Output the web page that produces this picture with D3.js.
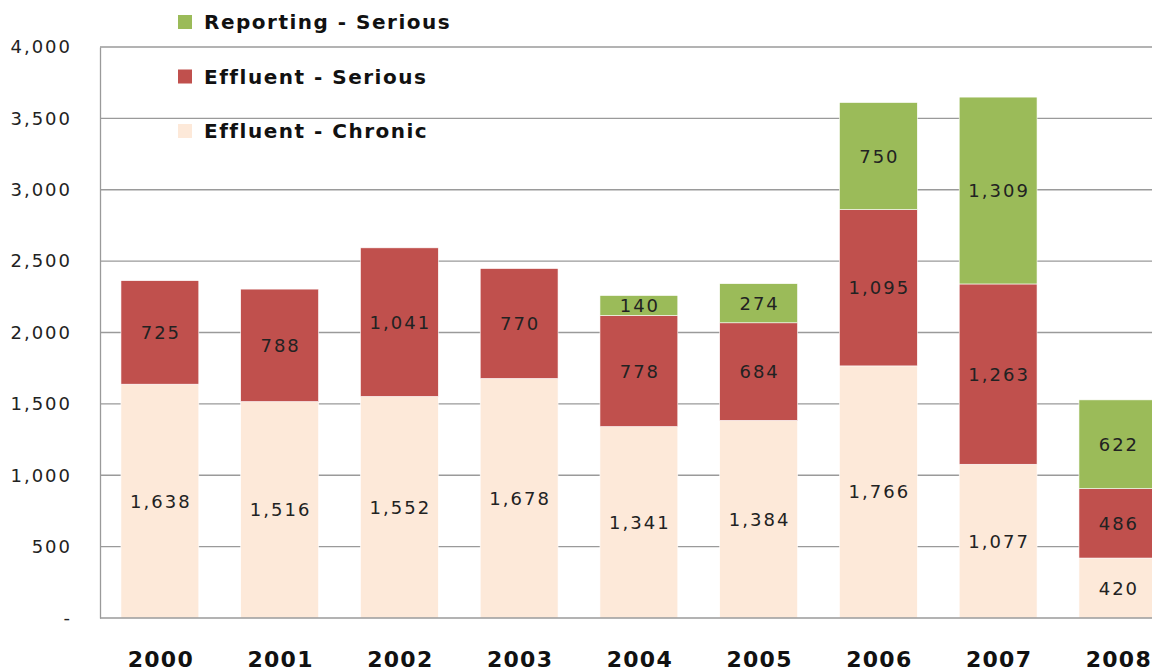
<!DOCTYPE html>
<html>
<head>
<meta charset="utf-8">
<script src="https://cdn.jsdelivr.net/npm/d3@7"></script>
<style>
  body { margin: 0; background: #fff; }
  svg { display: block; font-family: "DejaVu Sans", sans-serif; }
</style>
</head>
<body>
<svg id="chart" width="1152" height="671"></svg>
<script>
// data
const years = ["2000", "2001", "2002", "2003", "2004", "2005", "2006", "2007", "2008"];
const effluentChronic = [1638, 1516, 1552, 1678, 1341, 1384, 1766, 1077, 420];
const effluentSerious = [725, 788, 1041, 770, 778, 684, 1095, 1263, 486];
const reportingSerious = [0, 0, 0, 0, 140, 274, 750, 1309, 622];
const yTicks = [0, 500, 1000, 1500, 2000, 2500, 3000, 3500, 4000];

const seriesNames = ["Effluent - Chronic", "Effluent - Serious", "Reporting - Serious"];
const colors = ["#fde9d9", "#c0504d", "#9bbb59"];

const svg = d3.select("#chart");
const plotLeft = 100, plotTop = 47, plotBottom = 618;

const rows = years.map(function (y, i) {
  return { year: y, c: effluentChronic[i], s: effluentSerious[i], r: reportingSerious[i] };
});
const stack = d3.stack().keys(["c", "s", "r"])(rows);

const x = d3.scaleBand().domain(years).range([plotLeft, plotLeft + 9 * 119.75])
  .paddingInner(0.35).paddingOuter(0.175);
const y = d3.scaleLinear().domain([0, 4000]).range([plotBottom, plotTop]);

// gridlines
svg.append("g")
  .selectAll("line")
  .data(yTicks.slice(1))
  .enter()
  .append("line")
  .attr("x1", plotLeft).attr("x2", 1152)
  .attr("y1", d => y(d)).attr("y2", d => y(d))
  .attr("stroke", "#9a9a9a").attr("stroke-width", 1.3);

// y axis
const yAxis = svg.append("g")
  .attr("transform", "translate(" + plotLeft + ",0)")
  .call(d3.axisLeft(y).tickValues(yTicks).tickSize(0).tickPadding(28)
    .tickFormat(d => d === 0 ? "-" : d3.format(",")(d)));
yAxis.select(".domain").attr("stroke", "#9a9a9a").attr("stroke-width", 1.3);
yAxis.selectAll("text").attr("font-size", 18).attr("fill", "#222")
  .attr("font-family", "DejaVu Sans").attr("letter-spacing", 2);

// bars
const layer = svg.append("g")
  .selectAll("g")
  .data(stack)
  .enter()
  .append("g")
  .attr("fill", (d, i) => colors[i]);

layer.selectAll("rect")
  .data(d => d.filter(p => p[1] > p[0]))
  .enter()
  .append("rect")
  .attr("x", d => x(d.data.year))
  .attr("width", x.bandwidth())
  .attr("y", d => y(d[1]))
  .attr("height", d => y(d[0]) - y(d[1]))
  .attr("stroke", "#fff").attr("stroke-width", 0.6);

// labels
layer.selectAll("text")
  .data(d => d.filter(p => p[1] > p[0]))
  .enter()
  .append("text")
  .attr("x", d => x(d.data.year) + x.bandwidth() / 2 + 1)
  .attr("y", d => y((d[0] + d[1]) / 2))
  .attr("dy", "0.36em")
  .attr("text-anchor", "middle")
  .attr("font-size", 18)
  .attr("letter-spacing", 2)
  .attr("fill", "#222")
  .text(d => d3.format(",")(d[1] - d[0]));

// x axis
svg.append("line")
  .attr("x1", plotLeft).attr("x2", 1152)
  .attr("y1", plotBottom).attr("y2", plotBottom)
  .attr("stroke", "#9a9a9a").attr("stroke-width", 1.3);

svg.append("g")
  .selectAll("text")
  .data(years)
  .enter()
  .append("text")
  .attr("x", d => x(d) + x.bandwidth() / 2 + 1)
  .attr("y", 667)
  .attr("text-anchor", "middle")
  .attr("font-size", 22)
  .attr("font-weight", "bold")
  .attr("letter-spacing", 1.3)
  .attr("fill", "#111")
  .text(d => d);

// legend
const legend = svg.append("g").attr("id", "legend");
const legendItems = [2, 1, 0];
legendItems.forEach(function (k, i) {
  const cy = 22 + i * 54.5;
  legend.append("rect")
    .attr("x", 178).attr("y", cy - 7)
    .attr("width", 14).attr("height", 14)
    .attr("fill", colors[k]);
  legend.append("text")
    .attr("x", 204).attr("y", cy)
    .attr("dy", "0.36em")
    .attr("font-size", 20)
    .attr("font-weight", "bold")
    .attr("letter-spacing", 1.5)
    .attr("fill", "#111")
    .text(seriesNames[k]);
});
</script>
</body>
</html>
